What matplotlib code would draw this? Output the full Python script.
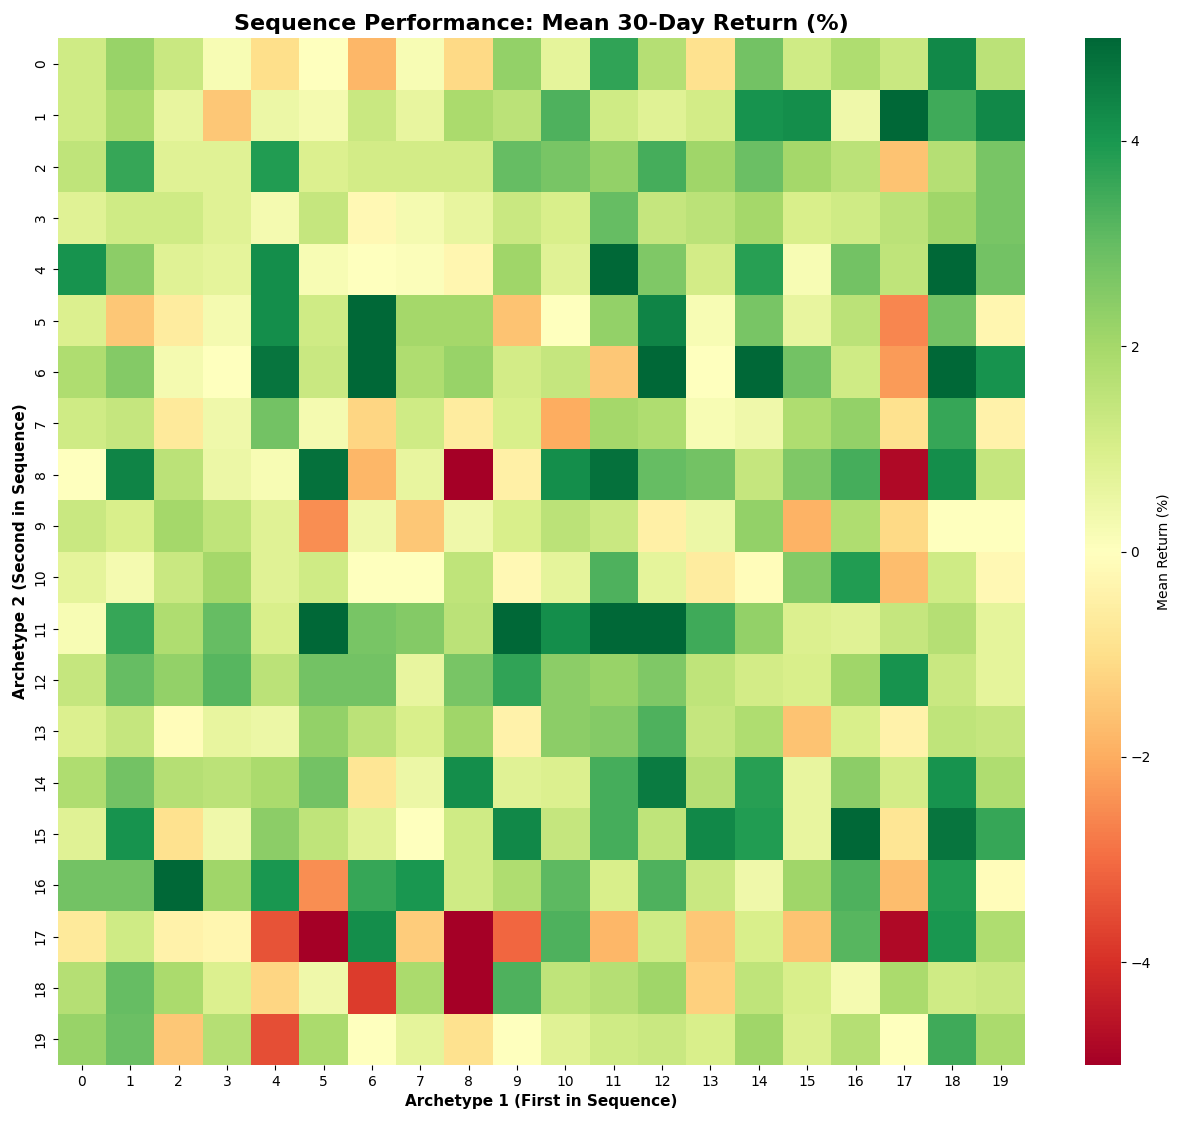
import numpy as np
import seaborn as sns
import matplotlib
matplotlib.use("Agg")
from matplotlib import pyplot as plt

archetypes = list(range(20))

# mean 30-day return, rows = archetype 2, cols = archetype 1
returns = np.array([
    [1.2, 2.2, 1.3, 0.2, -1.0, 0.0, -1.8, 0.2, -1.1, 2.3, 0.7, 3.7, 1.7, -0.9, 2.8, 1.2, 1.8, 1.3, 4.3, 1.6],
    [1.2, 1.9, 0.6, -1.5, 0.5, 0.3, 1.3, 0.6, 1.9, 1.6, 3.3, 1.2, 0.8, 1.1, 4.1, 4.2, 0.4, 5.0, 3.5, 4.3],
    [1.5, 3.6, 0.8, 0.8, 3.9, 0.9, 1.1, 1.1, 1.1, 3.0, 2.7, 2.3, 3.4, 2.1, 2.9, 2.0, 1.6, -1.6, 1.7, 2.7],
    [0.8, 1.2, 1.2, 0.8, 0.3, 1.4, -0.2, 0.3, 0.6, 1.3, 1.0, 3.0, 1.4, 1.6, 2.0, 1.0, 1.2, 1.6, 2.1, 2.7],
    [4.1, 2.4, 0.8, 0.7, 4.2, 0.2, 0.0, 0.1, -0.3, 2.1, 0.8, 5.0, 2.6, 1.1, 3.8, 0.2, 2.8, 1.5, 5.0, 2.8],
    [0.9, -1.5, -0.6, 0.3, 4.2, 1.2, 5.0, 2.0, 2.0, -1.6, 0.0, 2.3, 4.4, 0.2, 2.7, 0.6, 1.6, -2.6, 2.8, -0.3],
    [1.8, 2.5, 0.3, 0.0, 4.7, 1.3, 5.0, 1.8, 2.2, 1.1, 1.4, -1.5, 5.0, 0.0, 5.0, 2.8, 1.2, -2.3, 5.0, 4.1],
    [1.2, 1.4, -0.7, 0.4, 2.8, 0.3, -1.2, 1.2, -0.6, 1.0, -2.0, 2.0, 1.8, 0.2, 0.4, 1.8, 2.3, -0.9, 3.6, -0.4],
    [0.0, 4.4, 1.6, 0.5, 0.2, 4.8, -1.8, 0.6, -5.0, -0.5, 4.2, 4.8, 3.0, 2.8, 1.4, 2.6, 3.4, -4.8, 4.2, 1.4],
    [1.3, 1.0, 2.0, 1.5, 0.8, -2.5, 0.4, -1.5, 0.4, 1.0, 1.6, 1.3, -0.5, 0.5, 2.3, -1.9, 1.8, -1.1, 0.0, 0.0],
    [0.7, 0.3, 1.3, 2.0, 0.8, 1.2, 0.0, 0.0, 1.5, -0.2, 0.7, 3.3, 0.7, -0.6, -0.1, 2.5, 3.9, -1.7, 1.2, -0.2],
    [0.2, 3.6, 1.8, 3.0, 1.0, 5.0, 2.7, 2.5, 1.6, 5.0, 4.2, 5.0, 5.0, 3.5, 2.3, 0.9, 0.8, 1.4, 1.7, 0.7],
    [1.4, 3.0, 2.3, 3.2, 1.6, 2.8, 2.8, 0.6, 2.7, 3.7, 2.4, 2.2, 2.6, 1.5, 1.1, 1.0, 2.1, 4.1, 1.3, 0.7],
    [0.9, 1.4, -0.1, 0.6, 0.5, 2.3, 1.6, 1.0, 2.1, -0.4, 2.4, 2.5, 3.3, 1.4, 1.8, -1.6, 1.0, -0.4, 1.5, 1.4],
    [1.8, 2.8, 1.7, 1.6, 1.9, 2.8, -0.8, 0.5, 4.2, 0.8, 0.9, 3.4, 4.6, 1.7, 3.8, 0.6, 2.4, 1.1, 4.1, 1.8],
    [0.8, 4.1, -0.9, 0.4, 2.4, 1.5, 0.8, 0.0, 1.2, 4.3, 1.4, 3.4, 1.5, 4.3, 3.9, 0.6, 5.0, -0.8, 4.7, 3.6],
    [2.8, 2.8, 5.0, 2.1, 4.0, -2.5, 3.6, 4.0, 1.2, 1.8, 3.1, 1.0, 3.3, 1.3, 0.4, 2.1, 3.3, -1.7, 3.9, -0.1],
    [-0.7, 1.2, -0.4, -0.3, -3.4, -5.0, 4.2, -1.4, -5.0, -3.1, 3.3, -1.8, 1.2, -1.5, 1.0, -1.6, 3.2, -4.8, 4.0, 1.8],
    [1.7, 3.0, 1.9, 0.9, -1.2, 0.4, -3.8, 1.9, -5.0, 3.3, 1.5, 1.7, 2.1, -1.3, 1.5, 1.0, 0.3, 1.9, 1.2, 1.3],
    [2.2, 2.9, -1.5, 1.7, -3.5, 1.9, 0.0, 0.7, -0.9, 0.0, 0.8, 1.2, 1.3, 1.0, 2.1, 0.9, 1.7, 0.0, 3.5, 1.9],
])

fig = plt.figure(figsize=(12, 11.24), dpi=100)
ax = fig.add_axes([0.048, 0.0525, 0.806, 0.9135])
cax = fig.add_axes([0.904, 0.0525, 0.03, 0.9135])
sns.heatmap(returns, cmap='RdYlGn', vmin=-5, vmax=5, center=0,
            xticklabels=archetypes, yticklabels=archetypes,
            cbar_ax=cax, cbar_kws={'label': 'Mean Return (%)'}, ax=ax)
ax.set_title('Sequence Performance: Mean 30-Day Return (%)', fontsize=16, fontweight='bold')
ax.set_xlabel('Archetype 1 (First in Sequence)', fontsize=11, fontweight='bold')
ax.set_ylabel('Archetype 2 (Second in Sequence)', fontsize=11, fontweight='bold')
plt.savefig('out.png')
